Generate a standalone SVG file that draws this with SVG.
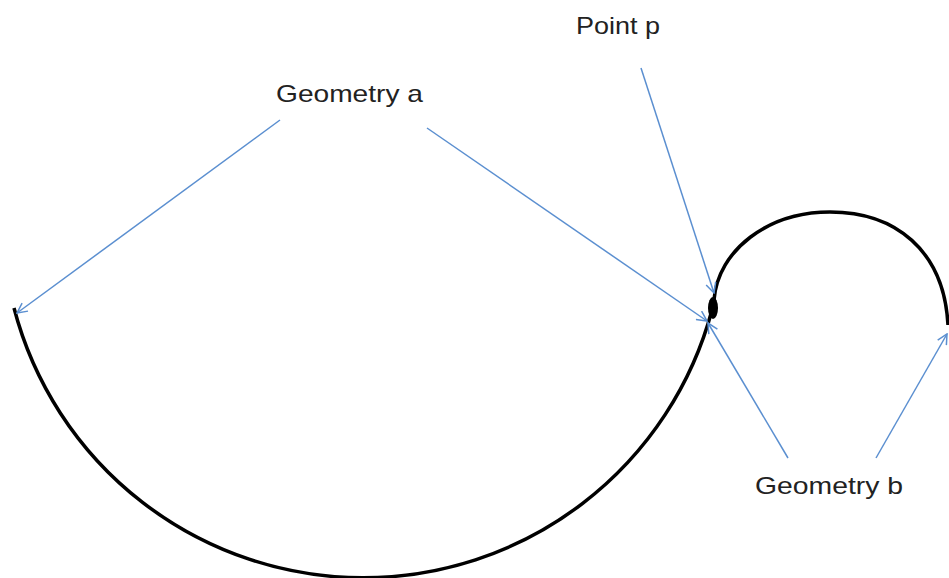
<svg xmlns="http://www.w3.org/2000/svg" width="949" height="578" viewBox="0 0 949 578">
<style>
.curve{fill:none;stroke:#000;stroke-width:3.5}
.ptr{fill:none;stroke:#5B8FD0;stroke-width:1.5;marker-end:url(#ah)}
.lbl{font-family:"Liberation Sans",Arial,sans-serif;font-size:24px;fill:#222}
</style>
<defs>
<marker id="ah" viewBox="0 0 12 12" refX="11" refY="6" markerWidth="12" markerHeight="12" markerUnits="userSpaceOnUse" orient="auto">
<path d="M1,1 L11,6 L1,11" fill="none" stroke="#5B8FD0" stroke-width="1.5"/>
</marker>
</defs>
<rect width="949" height="578" fill="#fff"/>
<g id="geometry-a">
<path class="curve" d="M14,308 A361,361 0 0 0 712,310"/>
</g>
<g id="geometry-b">
<path class="curve" d="M714,300 C718,250 768,212 830,212 C895,212 944,250 948,325"/>
</g>
<g id="point-p">
<ellipse cx="713" cy="308" rx="5" ry="11" fill="#000"/>
</g>
<g id="connectors">
<line class="ptr" x1="280" y1="120" x2="17" y2="313"/>
<line class="ptr" x1="427" y1="128" x2="707" y2="321"/>
<line class="ptr" x1="641" y1="68" x2="714" y2="293"/>
<line class="ptr" x1="788" y1="458" x2="708" y2="323"/>
<line class="ptr" x1="876" y1="458" x2="947" y2="334"/>
</g>
<g id="labels">
<text class="lbl" x="576" y="34" textLength="84" lengthAdjust="spacingAndGlyphs">Point p</text>
<text class="lbl" x="276" y="102" textLength="147" lengthAdjust="spacingAndGlyphs">Geometry a</text>
<text class="lbl" x="755" y="494" textLength="148" lengthAdjust="spacingAndGlyphs">Geometry b</text>
</g>
</svg>
